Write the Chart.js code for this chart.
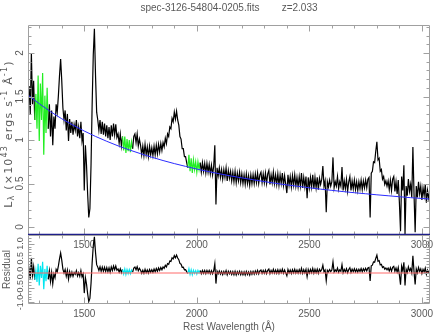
<!DOCTYPE html>
<html>
<head>
<meta charset="UTF-8" />
<title>spec-3126-54804-0205</title>
<script src="https://cdn.jsdelivr.net/npm/chart.js"></script>
<style>
    body { margin: 0; background: #fff; }
    #wrap { position: relative; width: 436px; height: 336px; }
    #wrap canvas { position: absolute; left: 0; top: 0; }
</style>
</head>
<body>
<div id="wrap">
    <canvas id="specChart" width="436" height="336"></canvas>
    <canvas id="residChart" width="436" height="336"></canvas>
</div>
<script>
// spectrum sampled every 5 A starting at 1250 A (rest frame)
const lambdaStart = 1250;
const lambdaStep = 5;
const flux = [
    1.37, 1.62, 1.3, 2.0, 1.41, 1.68, 1.23, 1.53, 1.13, 1.74,
    0.99, 1.65, 1.23, 1.77, 0.83, 1.51, 1.08, 1.6, 1.13, 1.41,
    1.04, 1.34, 0.94, 1.27, 1.13, 1.41, 1.32, 1.51, 1.74, 1.93,
    1.68, 1.37, 1.23, 1.34, 1.11, 1.3, 0.99, 1.24, 1.08, 1.21,
    1.06, 1.18, 1.11, 1.23, 1.04, 1.15, 1.02, 1.21, 0.99, 1.08,
    0.42, 0.94, 0.71, 0.38, 0.11, 0.21, 0.71, 1.41, 1.98, 2.28,
    1.74, 1.32, 1.23, 1.11, 1.23, 1.07, 1.21, 1.06, 1.19, 1.04,
    1.17, 1.02, 1.15, 1.0, 1.17, 1.04, 1.19, 1.06, 1.18, 1.03,
    1.07, 0.96, 1.07, 0.93, 1.04, 0.88, 1.04, 0.85, 1.01, 0.87,
    1.0, 0.86, 0.98, 0.9, 1.04, 1.07, 0.97, 1.07, 0.93, 1.01,
    0.94, 0.83, 0.93, 0.82, 0.95, 0.83, 0.92, 0.81, 0.93, 0.83,
    0.91, 0.82, 0.93, 0.83, 0.94, 0.84, 0.95, 0.86, 0.96, 0.88,
    0.97, 0.92, 1.02, 0.96, 1.07, 1.04, 1.15, 1.13, 1.25, 1.21,
    1.32, 1.24, 1.33, 1.23, 1.17, 1.04, 1.01, 0.9, 0.9, 0.81,
    0.81, 0.74, 0.68, 0.83, 0.64, 0.79, 0.62, 0.77, 0.66, 0.75,
    0.63, 0.75, 0.66, 0.74, 0.63, 0.74, 0.64, 0.73, 0.62, 0.73,
    0.63, 0.72, 0.61, 0.71, 0.6, 0.7, 0.94, 0.26, 0.68, 0.59,
    0.68, 0.57, 0.66, 0.55, 0.66, 0.57, 0.68, 0.53, 0.65, 0.56,
    0.64, 0.53, 0.63, 0.52, 0.64, 0.51, 0.62, 0.53, 0.63, 0.51,
    0.61, 0.5, 0.6, 0.49, 0.61, 0.5, 0.59, 0.48, 0.6, 0.5,
    0.6, 0.5, 0.61, 0.51, 0.62, 0.5, 0.6, 0.63, 0.51, 0.61,
    0.51, 0.62, 0.5, 0.61, 0.65, 0.49, 0.6, 0.51, 0.63, 0.5,
    0.6, 0.49, 0.61, 0.48, 0.6, 0.5, 0.62, 0.48, 0.59, 0.49,
    0.39, 0.6, 0.48, 0.58, 0.46, 0.59, 0.48, 0.6, 0.47, 0.57,
    0.46, 0.58, 0.47, 0.62, 0.45, 0.57, 0.46, 0.58, 0.33, 0.57,
    0.45, 0.57, 0.46, 0.6, 0.44, 0.57, 0.45, 0.57, 0.43, 0.56,
    0.49, 0.55, 0.7, 0.47, 0.53, 0.17, 0.52, 0.46, 0.54, 0.47,
    0.52, 0.8, 0.45, 0.52, 0.47, 0.58, 0.44, 0.52, 0.47, 0.69,
    0.42, 0.53, 0.44, 0.55, 0.41, 0.52, 0.58, 0.42, 0.53, 0.44,
    0.54, 0.43, 0.52, 0.42, 0.52, 0.44, 0.54, 0.43, 0.53, 0.45,
    0.54, 0.45, 0.55, 0.57, 0.11, 0.62, 0.64, 0.75, 0.74, 0.87,
    0.98, 0.77, 0.79, 0.64, 0.66, 0.55, 0.58, 0.49, 0.53, 0.47,
    0.53, 0.43, 0.54, 0.42, 0.55, 0.58, 0.41, 0.52, 0.38, 0.54,
    0.28, -0.05, 0.58, 0.42, 0.71, -0.08, 0.47, 0.36, 0.55, 0.41,
    0.49, 0.34, 0.92, 0.38, -0.06, 0.47, 0.34, 0.52, 0.38, 0.47,
    0.31, 0.45, 0.36, 0.49, 0.28, 0.42, 0.33, 0.4, 0.38, 0.36
];

// power-law continuum, every 50 A
const contLambda = [1250, 1300, 1350, 1400, 1450, 1500, 1550, 1600, 1650, 1700,
    1750, 1800, 1850, 1900, 1950, 2000, 2050, 2100, 2150, 2200,
    2250, 2300, 2350, 2400, 2450, 2500, 2550, 2600, 2650, 2700,
    2750, 2800, 2850, 2900, 2950, 3000, 3050];
const contFlux = [1.517, 1.417, 1.326, 1.244, 1.171, 1.103, 1.041, 0.985, 0.933, 0.886,
    0.843, 0.802, 0.764, 0.729, 0.697, 0.666, 0.638, 0.612, 0.587, 0.565,
    0.543, 0.522, 0.502, 0.484, 0.467, 0.451, 0.435, 0.421, 0.407, 0.394,
    0.382, 0.370, 0.359, 0.348, 0.337, 0.328, 0.319];

// continuum fitting windows (drawn green / cyan)
const fitWindows = [[1280, 1340], [1670, 1715], [1960, 2015]];

const xTicks = [1500, 2000, 2500, 3000];
const fluxTicks = [0, 0.5, 1, 1.5, 2];
const residTicks = [-1, -0.5, 0, 0.5, 1];

const titleText = 'spec-3126-54804-0205.fits        z=2.033';
const textColor = '#5a5a5a';
const frameColor = '#a0a0a0';
const FONT = '"Liberation Sans", Arial, sans-serif';

const wave = flux.map((_, i) => lambdaStart + i * lambdaStep);

function contAt(l) {
    for (let k = 0; k < contLambda.length - 1; k++) {
        if (l <= contLambda[k + 1]) {
            const t = (l - contLambda[k]) / (contLambda[k + 1] - contLambda[k]);
            return contFlux[k] + t * (contFlux[k + 1] - contFlux[k]);
        }
    }
    return contFlux[contFlux.length - 1];
}

const specPts = wave.map((l, i) => ({ x: l, y: flux[i] }));
const contPts = contLambda.map((l, i) => ({ x: l, y: contFlux[i] }));
const residPts = wave.map((l, i) => ({ x: l, y: flux[i] - contAt(l) }));
const zeroPts = [{ x: 1250, y: 0 }, { x: 3050, y: 0 }];

const inWindow = l => fitWindows.some(([a, b]) => l >= a && l <= b);
const windowColor = c => (ctx => inWindow(ctx.p0.parsed.x) && inWindow(ctx.p1.parsed.x) ? c : '#000');

// IDL-like frame with inward ticks on all four sides
const framePlugin = {
    id: 'frame',
    afterDatasetsDraw(chart, args, o) {
        const { ctx, chartArea: a } = chart;
        const x = chart.scales.x, y = chart.scales.y;
        const L = a.left + 0.5, R = a.right - 0.5, T = a.top + 0.5, B = a.bottom - 0.5;
        ctx.save();
        ctx.lineWidth = 1;
        ctx.strokeStyle = frameColor;
        ctx.beginPath();
        ctx.moveTo(L, B); ctx.lineTo(L, T); ctx.lineTo(R, T); ctx.lineTo(R, B);
        if (!o.bottomColor) ctx.lineTo(L, B);
        for (let k = Math.ceil(x.min / 100); k * 100 <= x.max; k++) {
            const px = Math.round(x.getPixelForValue(k * 100)) + 0.5;
            const len = k % 5 === 0 ? 6 : 3;
            ctx.moveTo(px, T); ctx.lineTo(px, T + len);
            ctx.moveTo(px, B); ctx.lineTo(px, B - len);
        }
        for (let k = Math.ceil(y.min * 10 - 1e-6); k <= Math.floor(y.max * 10 + 1e-6); k++) {
            const py = Math.round(y.getPixelForValue(k / 10)) + 0.5;
            const len = k % 5 === 0 ? 6 : 3;
            ctx.moveTo(L, py); ctx.lineTo(L + len, py);
            ctx.moveTo(R, py); ctx.lineTo(R - len, py);
        }
        ctx.stroke();
        if (o.bottomColor) {
            ctx.strokeStyle = o.bottomColor;
            ctx.lineWidth = 1.5;
            ctx.beginPath();
            ctx.moveTo(a.left, a.bottom - 0.5); ctx.lineTo(a.right, a.bottom - 0.5);
            ctx.stroke();
        }
        ctx.restore();
    }
};

// title and the y label with super/subscripts
const labelPlugin = {
    id: 'labels',
    afterDraw(chart) {
        const { ctx, chartArea: a } = chart;
        ctx.save();
        ctx.fillStyle = textColor;
        ctx.font = '10px ' + FONT;
        ctx.textAlign = 'center';
        ctx.textBaseline = 'middle';
        ctx.fillText(titleText, (a.left + a.right) / 2, 8);

        const parts = [['L', 0], ['\u03bb', -1], [' (\u00d710', 0], ['43', 1], [' ergs s', 0],
            ['-1', 1], [' \u00c5', 0], ['-1', 1], [')', 0]];
        const big = '11px "DejaVu Sans", sans-serif', small = '8px "DejaVu Sans", sans-serif';
        ctx.letterSpacing = '1.2px';
        let total = 0;
        parts.forEach(([t, s]) => { ctx.font = s ? small : big; total += ctx.measureText(t).width; });
        ctx.translate(9, 134);
        ctx.rotate(-Math.PI / 2);
        ctx.textAlign = 'left';
        let cx = -total / 2;
        parts.forEach(([t, s]) => {
            ctx.font = s ? small : big;
            ctx.fillText(t, cx, s > 0 ? -4 : (s < 0 ? 3 : 0));
            cx += ctx.measureText(t).width;
        });
        ctx.restore();
    }
};

function fixWidth(w) {
    return axis => { axis.width = w; axis.paddingTop = 0; axis.paddingBottom = 0; };
}
function fixHeight(h) {
    return axis => { axis.height = h; axis.paddingLeft = 0; axis.paddingRight = 0; };
}

const common = {
    responsive: false,
    animation: false,
    devicePixelRatio: 1,
    elements: { point: { radius: 0 }, line: { tension: 0, borderWidth: 1 } },
    plugins: { legend: { display: false }, tooltip: { enabled: false } }
};

const xAxis = (h, pad, title) => ({
    type: 'linear',
    min: 1250,
    max: 3036,
    afterBuildTicks: axis => { axis.ticks = xTicks.map(v => ({ value: v })); },
    afterFit: fixHeight(h),
    grid: { display: false, drawTicks: false },
    border: { display: false },
    ticks: { color: textColor, font: { size: 10, family: FONT }, padding: pad, maxRotation: 0,
        autoSkip: false, callback: v => String(v) },
    title: title ? { display: true, text: title, color: textColor,
        font: { size: 10, family: FONT }, padding: { top: 0, bottom: 2.5 } } : { display: false }
});

new Chart(document.getElementById('specChart'), {
    type: 'line',
    data: {
        datasets: [
            { data: contPts, borderColor: '#2b2bff', borderWidth: 1 },
            { data: specPts, borderColor: '#000', borderWidth: 1.2, segment: { borderColor: windowColor('#22ee22') } }
        ]
    },
    options: {
        ...common,
        layout: { padding: { top: 25, right: 6, left: 0, bottom: 0 } },
        scales: {
            x: xAxis(101, 4),
            y: {
                type: 'linear',
                min: -0.092,
                max: 2.322,
                afterBuildTicks: axis => { axis.ticks = fluxTicks.map(v => ({ value: v })); },
                afterFit: fixWidth(28),
                grid: { display: false, drawTicks: false },
                border: { display: false },
                ticks: { color: textColor, font: { size: 10, family: FONT }, padding: 1, autoSkip: false,
                    minRotation: 90, maxRotation: 90, crossAlign: 'center', callback: v => String(v) }
            }
        },
        plugins: { ...common.plugins, frame: { bottomColor: '#1f1f8a' } }
    },
    plugins: [framePlugin, labelPlugin]
});

new Chart(document.getElementById('residChart'), {
    type: 'line',
    data: {
        datasets: [
            { data: zeroPts, borderColor: '#ff6a6a', borderWidth: 1 },
            { data: residPts, borderColor: '#000', borderWidth: 1.2, segment: { borderColor: windowColor('#00e6f0') } }
        ]
    },
    options: {
        ...common,
        layout: { padding: { top: 235, right: 6, left: 0, bottom: 0 } },
        scales: {
            x: xAxis(32, 4, 'Rest Wavelength (\u00c5)'),
            y: {
                type: 'linear',
                min: -1.054,
                max: 1.292,
                afterBuildTicks: axis => { axis.ticks = residTicks.map(v => ({ value: v })); },
                afterFit: fixWidth(28),
                grid: { display: false, drawTicks: false },
                border: { display: false },
                ticks: { color: textColor, font: { size: 9, family: FONT }, padding: 0, autoSkip: false,
                    minRotation: 90, maxRotation: 90, crossAlign: 'center', callback: v => v.toFixed(1) },
                title: { display: true, text: 'Residual', color: textColor,
                    font: { size: 10, family: FONT }, padding: { top: 1.5, bottom: 0 } }
            }
        },
        plugins: { ...common.plugins, frame: {} }
    },
    plugins: [framePlugin]
});
</script>
</body>
</html>
